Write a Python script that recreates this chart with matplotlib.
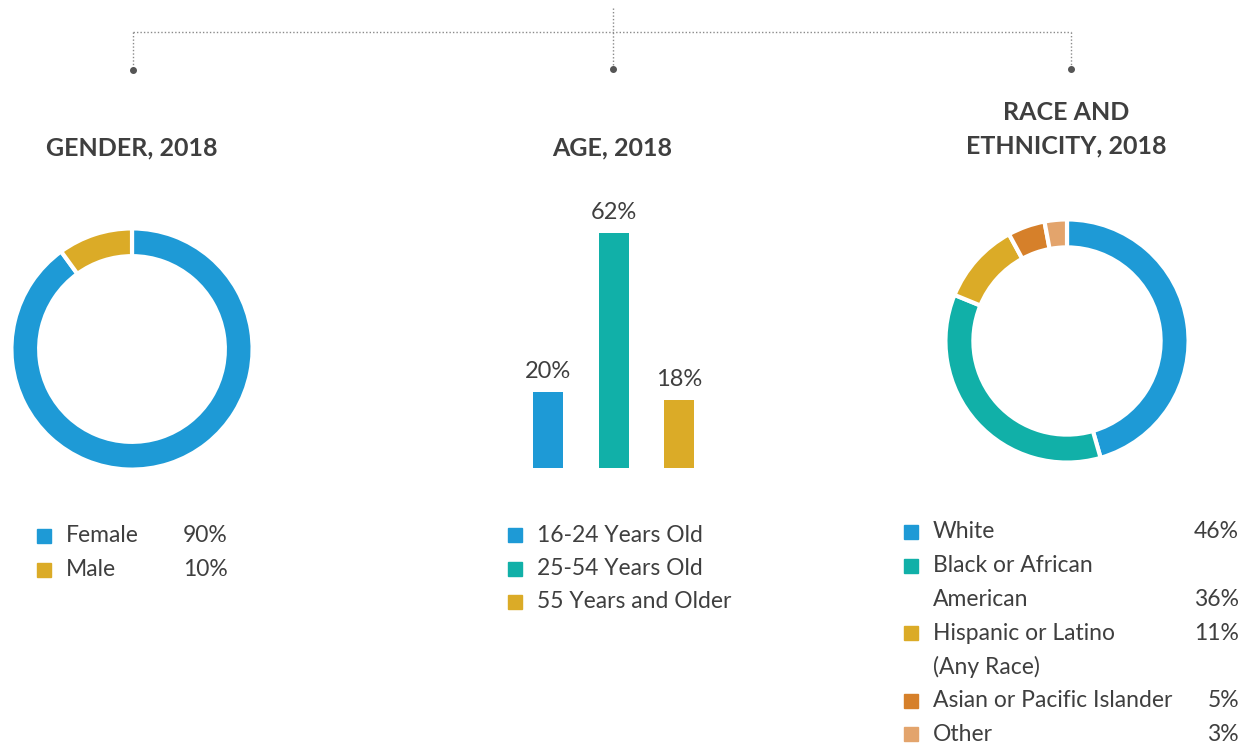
import matplotlib.pyplot as plt

# -----------------------------
# Data
# -----------------------------
gender_labels = ["Female", "Male"]
gender_values = [90, 10]

age_labels = ["16-24 Years Old", "25-54 Years Old", "55 Years and Older"]
age_values = [20, 62, 18]

race_labels = ["White", "Black or African\nAmerican", "Hispanic or Latino\n(Any Race)",
               "Asian or Pacific Islander", "Other"]
race_values = [46, 36, 11, 5, 3]

BLUE = "#1e9ad6"
TEAL = "#11b0a8"
GOLD = "#dbab27"
ORANGE = "#d6802a"
PEACH = "#e3a46c"
TXT = "#3f3f3f"

gender_colors = [BLUE, GOLD]
age_colors = [BLUE, TEAL, GOLD]
race_colors = [BLUE, TEAL, GOLD, ORANGE, PEACH]

plt.rcParams['font.family'] = ['Lato', 'DejaVu Sans']

W, H = 1249, 744
fig = plt.figure(figsize=(W / 100, H / 100), dpi=100)

# background axes in pixel coordinates (y down)
bg = fig.add_axes([0, 0, 1, 1])
bg.set_xlim(0, W)
bg.set_ylim(H, 0)
bg.axis("off")


def px_axes(x0, y0, x1, y1):
    """axes from pixel box (top-left origin)"""
    return fig.add_axes([x0 / W, 1 - y1 / H, (x1 - x0) / W, (y1 - y0) / H])


# -----------------------------
# Connector lines on top
# -----------------------------
line_kw = dict(color="#8a8a8a", linestyle=(0, (1, 1.5)), linewidth=1)
bg.plot([133, 1071], [32, 32], **line_kw)
bg.plot([613, 613], [8, 68], **line_kw)
bg.plot([133, 133], [32, 69], **line_kw)
bg.plot([1071, 1071], [32, 68], **line_kw)
for x, y in [(133, 70), (613, 69), (1071, 69)]:
    bg.plot(x, y, "o", color="#555555", markersize=4)

# -----------------------------
# Titles
# -----------------------------
title_kw = dict(ha="center", va="center", fontsize=18, fontweight="bold", color=TXT)
bg.text(132, 148, "GENDER, 2018", **title_kw)
bg.text(612, 148, "AGE, 2018", **title_kw)
bg.text(1066, 113, "RACE AND", **title_kw)
bg.text(1066, 146, "ETHNICITY, 2018", **title_kw)


# -----------------------------
# Donuts
# -----------------------------
def donut(cx, cy, r, values, colors):
    ax = px_axes(cx - r, cy - r, cx + r, cy + r)
    ax.pie(values, colors=colors, startangle=90, counterclock=False, radius=1,
           wedgeprops=dict(width=0.23, edgecolor="white", linewidth=3))
    ax.set_xlim(-1.02, 1.02)
    ax.set_ylim(-1.02, 1.02)
    ax.set_aspect("equal")
    ax.axis("off")


donut(132, 349, 123, gender_values, gender_colors)
donut(1067, 341, 124, race_values, race_colors)

# -----------------------------
# Age bars
# -----------------------------
step = 65.5
bx = px_axes(500, 190, 727, 468)
bx.set_xlim((500 - 548) / step, (727 - 548) / step)
bx.set_ylim(0, (468 - 190) / 235 * 62)
bars = bx.bar(range(len(age_values)), age_values, width=30 / step, color=age_colors)
for b, v in zip(bars, age_values):
    bx.annotate(f"{v}%", (b.get_x() + b.get_width() / 2, v), xytext=(0, 7),
                textcoords="offset points", ha="center", va="bottom",
                fontsize=17, color=TXT)
bx.axis("off")

# -----------------------------
# Legends
# -----------------------------
leg_kw = dict(va="center", fontsize=16.5, color=TXT)


def square(x, y, c):
    bg.plot(x, y, "s", color=c, markersize=10)


# gender
for i, (lab, val, c) in enumerate(zip(gender_labels, gender_values, gender_colors)):
    y = 536 + i * 34
    square(44, y, c)
    bg.text(66, y, lab, ha="left", **leg_kw)
    bg.text(228, y, f"{val}%", ha="right", **leg_kw)

# age
for i, (lab, c) in enumerate(zip(age_labels, age_colors)):
    y = 535 + i * 33.5
    square(515, y, c)
    bg.text(537, y, lab, ha="left", **leg_kw)

# race
row = 532
for lab, val, c in zip(race_labels, race_values, race_colors):
    lines = lab.split("\n")
    square(911, row, c)
    bg.text(933, row, lines[0], ha="left", **leg_kw)
    if len(lines) > 1:
        bg.text(933, row + 33.7, lines[1], ha="left", **leg_kw)
    pct_row = row + 33.7 if lab.startswith("Black") else row
    bg.text(1239, pct_row, f"{val}%", ha="right", **leg_kw)
    row += 33.7 * len(lines)

fig.savefig("out.png", dpi=100)
